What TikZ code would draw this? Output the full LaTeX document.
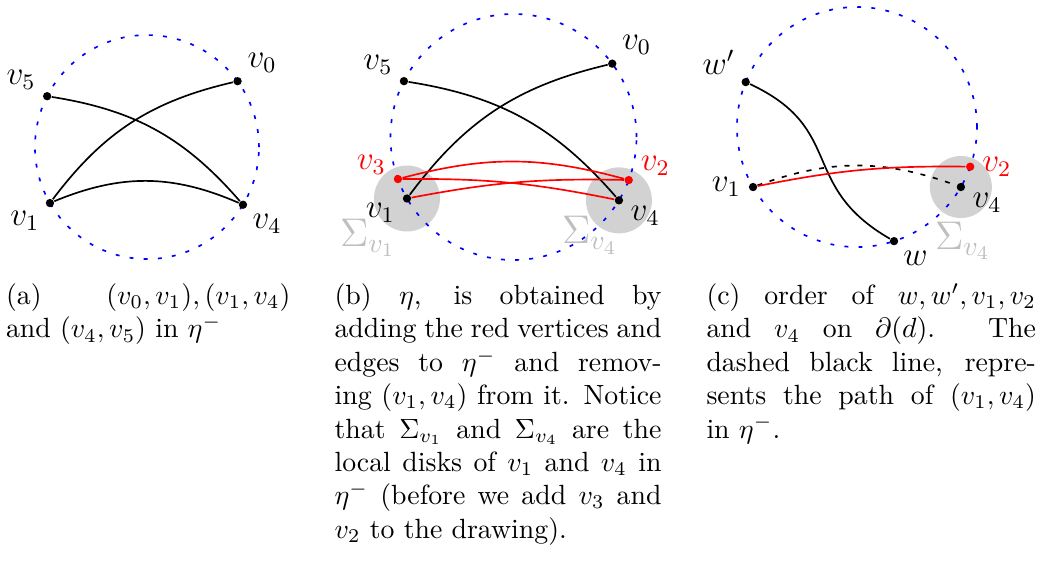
\documentclass[tikz,border=0pt]{standalone}
\usepackage{amsmath,amssymb}
\usepackage{tikz}
\usetikzlibrary{arrows.meta,positioning,calc}
\usepackage{xcolor}

\begin{document}
\begin{tikzpicture}[
  vtx/.style={circle, fill=black, inner sep=0pt, minimum size=3pt},
  rvtx/.style={vtx, fill=red},
  lbl/.style={font=\large, inner sep=1pt},
  bnd/.style={blue, semithick, dash pattern=on 1.4pt off 3.7pt},
  blk/.style={semithick},
  redge/.style={red, semithick},
  disk/.style={fill=gray!35},
  sig/.style={gray!50, font=\Large, inner sep=0pt},
  capt/.style={anchor=north west, inner sep=0pt, text width=#1, align=justify},
  label distance=1.5pt
]
  \useasboundingbox (0,0) rectangle (13.186,7.143);

  % (a) the drawing eta^-
  \begin{scope}[shift={(1.858,5.284)}]
    \draw[bnd] (0,0) circle (1.416);
    \node[vtx, label={[lbl]41:$v_0$}] (a0) at (36:1.416) {};
    \node[vtx, label={[lbl]157:$v_5$}] (a5) at (153:1.416) {};
    \node[vtx, label={[lbl]216:$v_1$}] (a1) at (210:1.416) {};
    \node[vtx, label={[lbl]315:$v_4$}] (a4) at (329:1.416) {};
    \draw[blk] (a5) to[bend left=20] (a4);
    \draw[blk] (a1) to[bend left=20] (a0);
    \draw[blk] (a1) to[bend left=23] (a4);
  \end{scope}

  % (b) eta with the red vertices and edges
  \begin{scope}[shift={(6.492,5.411)}]
    \fill[disk] (210:1.555) circle (0.417);
    \fill[disk] (329:1.555) circle (0.417);
    \draw[bnd] (0,0) circle (1.555);
    \node[vtx, label={[lbl]43:$v_0$}] (b0) at (36.6:1.555) {};
    \node[vtx, label={[lbl]156:$v_5$}] (b5) at (153:1.555) {};
    \node[vtx, label={[lbl]189:$v_1$}] (b1) at (210:1.555) {};
    \node[vtx, label={[lbl]342:$v_4$}] (b4) at (329:1.555) {};
    \node[rvtx, label={[lbl, red]173:$v_3$}] (b3) at (200:1.555) {};
    \node[rvtx, label={[lbl, red]8:$v_2$}] (b2) at (339.5:1.555) {};
    \draw[blk] (b5) to[bend left=20] (b4);
    \draw[blk] (b1) to[bend left=20] (b0);
    \draw[redge] (b3) to[bend left=15] (b2);
    \draw[redge] (b3) to[bend left=6] (b4);
    \draw[redge] (b1) to[bend left=6] (b2);
    \node[sig] (sb1) at ($(b1)+(-0.493,-0.493)$) {$\Sigma_{v_1}$};
    \node[sig] (sb4) at ($(b4)+(-0.367,-0.442)$) {$\Sigma_{v_4}$};
  \end{scope}

  % (c) order on the boundary of d
  \begin{scope}[shift={(10.834,5.537)}]
    \fill[disk] (330:1.517) circle (0.392);
    \draw[bnd] (0,0) circle (1.517);
    \node[vtx, label={[lbl]149:$w'$}] (cwp) at (158:1.517) {};
    \node[vtx, label={[lbl]180:$v_1$}] (c1) at (210:1.517) {};
    \node[vtx, label={[lbl]340:$v_4$}] (c4) at (330:1.517) {};
    \node[rvtx, label={[lbl, red]0:$v_2$}] (c2) at (340.7:1.517) {};
    \node[vtx, label={[lbl]313:$w$}] (cw) at (288:1.517) {};
    \draw[blk] (cwp) to[out=-25, in=150, looseness=1.3] (cw);
    \draw[blk, dash pattern=on 1.8pt off 2.8pt] (c1) to[bend left=20] (c4);
    \draw[redge] (c1) to[bend left=6] (c2);
    \node[sig] (sc4) at ($(c4)+(0.025,-0.683)$) {$\Sigma_{v_4}$};
  \end{scope}

  % captions
  \node[capt=102.3pt] (capa) at (0.070,3.563)
    {(a) $(v_0,v_1),(v_1,v_4)$\linebreak and $(v_4,v_5)$ in $\eta^-$};
  \node[capt=117.6pt] (capb) at (4.223,3.563)
    {(b) $\eta$, is obtained by\linebreak adding the red vertices and\linebreak edges to $\eta^-$ and remov-\linebreak ing $(v_1,v_4)$ from it. Notice\linebreak that $\Sigma_{v_1}$ and $\Sigma_{v_4}$ are the\linebreak local disks of $v_1$ and $v_4$ in\linebreak $\eta^-$ (before we add $v_3$ and\linebreak $v_2$ to the drawing).};
  \node[capt=118.5pt] (capc) at (8.925,3.563)
    {(c) order of $w,w',v_1,v_2$\linebreak and $v_4$ on $\partial(d)$. The\linebreak dashed black line, repre-\linebreak sents the path of $(v_1,v_4)$\linebreak in $\eta^-$.};
\end{tikzpicture}
\end{document}
